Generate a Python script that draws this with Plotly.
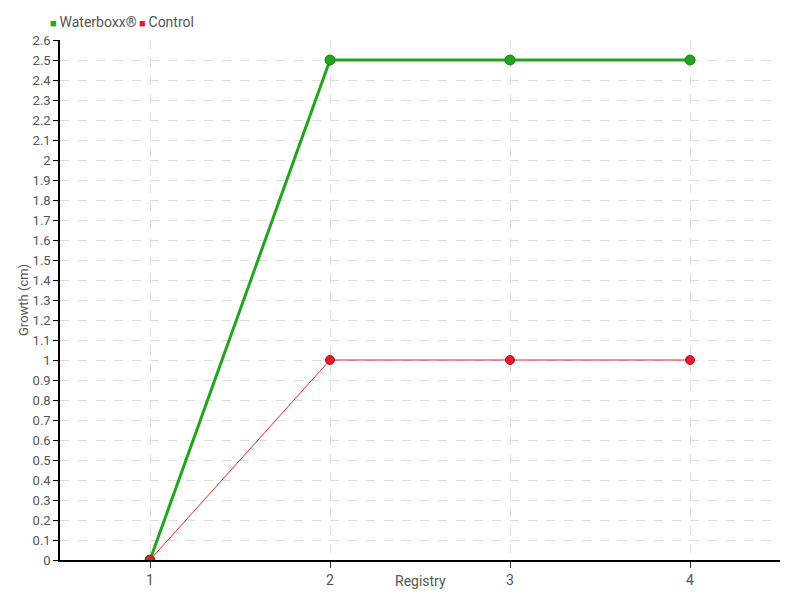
import plotly.graph_objects as go

registry = [1, 2, 3, 4]
waterboxx = [0, 2.5, 2.5, 2.5]
control = [0, 1, 1, 1]
series_names = ["Waterboxx®", "Control"]
y_ticks = [round(i * 0.1, 1) for i in range(27)]
y_ticktext = [("%g" % v) for v in y_ticks]
x_ticks = [1, 2, 3, 4]
x_title = "Registry"
y_title = "Growth (cm)"

font_family = "Roboto, sans-serif"
txt = "#555555"
green = "#22a51c"
red = "#e8192c"

fig = go.Figure()
fig.add_trace(go.Scatter(
    x=registry, y=waterboxx, name=series_names[0], mode="lines+markers",
    line=dict(color=green, width=3),
    marker=dict(color=green, size=10, line=dict(color="#1b7d16", width=1)),
))
fig.add_trace(go.Scatter(
    x=registry, y=control, name=series_names[1], mode="lines+markers",
    line=dict(color="#ee2233", width=1),
    marker=dict(color=red, size=9, line=dict(color="#a51520", width=1)),
))

# compact legend drawn as annotations (square swatch + label)
legend_y = 1 + (40 - 22) / 520
fig.add_annotation(
    xref="paper", yref="paper", x=(48 - 60) / 720, y=legend_y,
    xanchor="left", yanchor="middle", showarrow=False,
    text=f"<span style='color:{green};font-size:11px'>■</span>\u2009{series_names[0]}",
    font=dict(size=14, color=txt),
)
fig.add_annotation(
    xref="paper", yref="paper", x=(137 - 60) / 720, y=legend_y,
    xanchor="left", yanchor="middle", showarrow=False,
    text=f"<span style='color:{red};font-size:11px'>■</span>\u2009{series_names[1]}",
    font=dict(size=14, color=txt),
)
# axis titles
fig.add_annotation(
    xref="paper", yref="paper", x=(23 - 60) / 720, y=0.5,
    xanchor="center", yanchor="middle", showarrow=False, textangle=-90,
    text=y_title, font=dict(size=13, color=txt),
)
fig.add_annotation(
    xref="paper", yref="paper", x=(420 - 60) / 720, y=-(581 - 560) / 520,
    xanchor="center", yanchor="middle", showarrow=False,
    text=x_title, font=dict(size=14, color=txt),
)

fig.update_layout(
    width=792, height=592,
    margin=dict(l=52, r=20, t=32, b=40),
    plot_bgcolor="white", paper_bgcolor="white",
    font=dict(family=font_family, size=14, color=txt),
    showlegend=False,
    xaxis=dict(
        range=[0.5, 4.5], tickvals=x_ticks, ticktext=[str(v) for v in x_ticks],
        showline=True, linecolor="black", linewidth=1.5,
        ticks="outside", ticklen=6, tickcolor="#333", tickwidth=1,
        showgrid=True, gridcolor="#dddddd", griddash="dash", gridwidth=1,
        zeroline=False, automargin=False, tickfont=dict(size=14, color=txt),
    ),
    yaxis=dict(
        range=[0, 2.6], tickvals=y_ticks, ticktext=y_ticktext,
        showline=True, linecolor="black", linewidth=1.5,
        ticks="outside", ticklen=5, tickcolor="black", tickwidth=1,
        showgrid=True, gridcolor="#dddddd", griddash="dash", gridwidth=1,
        zeroline=False, automargin=False, tickfont=dict(size=13, color=txt),
    ),
)

fig.write_html("out.html")
